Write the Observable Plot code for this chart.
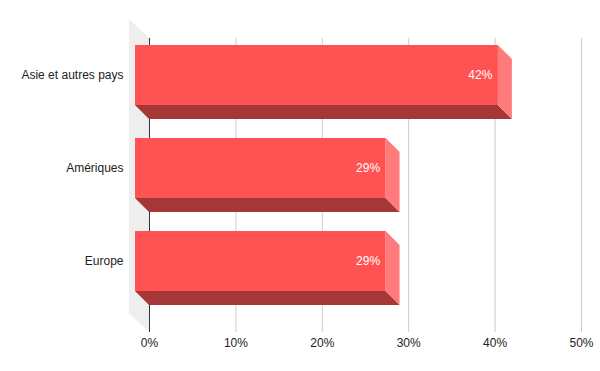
<!DOCTYPE html>
<html><head><meta charset="utf-8">
<script src="https://cdn.jsdelivr.net/npm/d3@7"></script>
<script src="https://cdn.jsdelivr.net/npm/@observablehq/plot@0.6"></script>
<style>body{margin:0;background:#fff}</style>
</head><body><div id="chart"></div>
<script>
const categories = ["Asie et autres pays", "Amériques", "Europe"];
const values = [0.42, 0.29, 0.29];
const valueLabels = ["42%", "29%", "29%"];
const xTicks = [0, 0.1, 0.2, 0.3, 0.4, 0.5];
const xTickLabels = ["0%", "10%", "20%", "30%", "40%", "50%"];

const data = categories.map((c, i) => ({category: c, value: values[i], label: valueLabels[i]}));

const DX = -14, DY = -14; // bar depth (front face offset)
const WX = -20, WY = -19; // wall depth

function wall(index, scales, vals, dims) {
  const {x} = scales;
  const x0 = x(0);
  const top = dims.marginTop, bottom = dims.height - dims.marginBottom;
  const g = d3.create("svg:g");
  g.append("polygon")
    .attr("points", [[x0 + WX, top + WY], [x0, top], [x0, bottom], [x0 + WX, bottom + WY]].join(" "))
    .attr("fill", "#eeeeee");
  return g.node();
}

function sides(index, scales) {
  const {x, y} = scales;
  const bw = y.bandwidth();
  const g = d3.create("svg:g");
  for (const d of data) {
    const x0 = x(0), x1 = x(d.value), yt = y(d.category), yb = yt + bw;
    g.append("polygon")
      .attr("points", [[x0 + DX, yb + DY], [x1 + DX, yb + DY], [x1, yb], [x0, yb]].join(" "))
      .attr("fill", "#a63737");
    g.append("polygon")
      .attr("points", [[x1 + DX, yt + DY], [x1, yt], [x1, yb], [x1 + DX, yb + DY]].join(" "))
      .attr("fill", "#ff7b7b");
  }
  return g.node();
}

const chart = Plot.plot({
  width: 600, height: 371,
  marginLeft: 149, marginRight: 19, marginTop: 38, marginBottom: 39,
  style: {fontFamily: "Arial, 'Liberation Sans', sans-serif", fontSize: "12px", color: "#222", background: "#fff"},
  x: {domain: [0, 0.5], axis: null, label: null},
  y: {domain: categories, paddingInner: 0.351, paddingOuter: 0.2395, align: 0.444, axis: null, label: null},
  marks: [
    wall,
    Plot.gridX(xTicks, {stroke: "#cccccc", strokeOpacity: 1}),
    Plot.ruleX([0], {stroke: "#333333"}),
    sides,
    Plot.barX(data, {x: "value", y: "category", dx: DX, dy: DY, fill: "#ff5252"}),
    Plot.text(data, {x: "value", y: "category", text: "label", dx: DX - 6, dy: DY, textAnchor: "end", fill: "white", fontSize: 12}),
    Plot.text(data, {x: 0, y: "category", text: "category", dx: -26, dy: DY, textAnchor: "end", fill: "#222"}),
    Plot.axisX(xTicks, {tickSize: 0, tickPadding: 6, label: null, tickFormat: d => xTickLabels[xTicks.indexOf(d)], fill: "#222"})
  ]
});
document.getElementById("chart").appendChild(chart);
</script>
</body></html>
